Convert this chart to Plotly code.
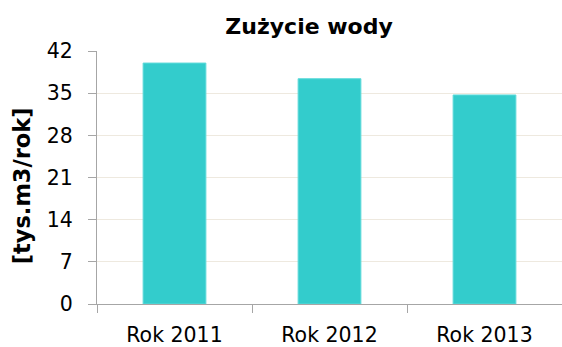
import plotly.graph_objects as go

categories = ["Rok 2011", "Rok 2012", "Rok 2013"]
values = [40.0, 37.4, 34.7]
y_ticks = [0, 7, 14, 21, 28, 35, 42]

FONT = "DejaVu Sans"
TICK_SIZE = 20.5

fig = go.Figure(
    go.Bar(
        x=categories,
        y=values,
        marker=dict(color="#33CCCC", line=dict(color="#5FDADA", width=1)),
        hoverinfo="x+y",
    )
)

fig.update_layout(
    width=562,
    height=347,
    margin=dict(l=97, r=0, t=51, b=43),
    paper_bgcolor="white",
    plot_bgcolor="white",
    bargap=0.595,
    showlegend=False,
    title=dict(
        text="<b>Zużycie wody</b>",
        font=dict(family=FONT, size=22, color="#000000"),
        x=0.55,
        xanchor="center",
        y=0.925,
        yanchor="middle",
    ),
    font=dict(family=FONT, size=TICK_SIZE, color="#000000"),
)

# vertical unit label left of the value axis
fig.add_annotation(
    text="<b>[tys.m3/rok]</b>",
    xref="paper",
    yref="paper",
    x=-0.161,
    y=0.466,
    xanchor="center",
    yanchor="middle",
    textangle=-90,
    showarrow=False,
    font=dict(family=FONT, size=22.5, color="#000000"),
)

fig.update_xaxes(
    type="category",
    showline=True,
    linecolor="#A6A6A6",
    linewidth=1,
    ticks="outside",
    tickson="boundaries",
    ticklen=8,
    tickcolor="#A6A6A6",
    ticklabelstandoff=12,
    showgrid=False,
    automargin=False,
    tickfont=dict(family=FONT, size=TICK_SIZE, color="#000000"),
)

fig.update_yaxes(
    range=[0, 42],
    tickvals=y_ticks,
    showline=True,
    linecolor="#A6A6A6",
    linewidth=1,
    ticks="outside",
    ticklen=8,
    tickcolor="#A6A6A6",
    ticklabelstandoff=11,
    showgrid=True,
    gridcolor="#EEE9DF",
    gridwidth=1,
    zeroline=False,
    automargin=False,
    tickfont=dict(family=FONT, size=TICK_SIZE, color="#000000"),
)

fig.write_html("out.html")
